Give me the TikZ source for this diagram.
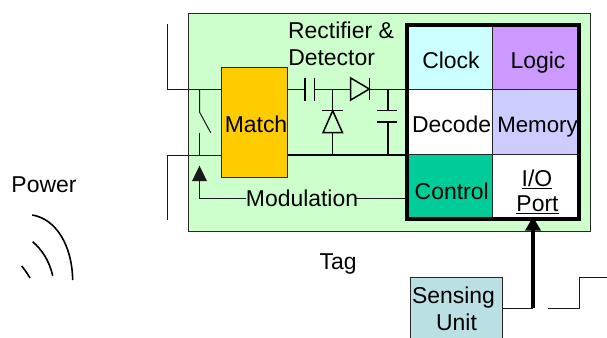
\documentclass[tikz,border=0pt]{standalone}
\usepackage{fontspec}
\setmainfont{Liberation Sans}
\usetikzlibrary{arrows.meta}
\definecolor{taggreen}{HTML}{CCFFCC}
\definecolor{matchc}{HTML}{FFCC00}
\definecolor{clockc}{HTML}{CCFFFF}
\definecolor{logicc}{HTML}{CC99FF}
\definecolor{memc}{HTML}{CCCCFF}
\definecolor{ctrlc}{HTML}{00CC99}
\definecolor{sensec}{HTML}{BBE0E3}
\begin{document}
\begin{tikzpicture}[x=0.75pt,y=-0.75pt,
  lbl/.style={inner sep=0pt,anchor=base,font=\fontsize{17.2}{20}\selectfont,text=black},
  wire/.style={draw=black!90,line width=0.75pt},
  heavy/.style={draw=black,line width=1.15pt},
  thin box/.style={draw=black!85,line width=0.75pt,inner sep=0pt},
  cell/.style={thin box,minimum width=65pt,minimum height=49pt}]
\useasboundingbox (0,0) rectangle (607,337);
\clip (0,0) rectangle (607,337);
% tag body
\node[thin box,fill=taggreen,minimum width=301.65pt,minimum height=163.5pt] (tag) at (389.6,122) {};
% free wire ends
\coordinate (topL) at (167,24);
\coordinate (upL) at (167,89);
\coordinate (lowL) at (167,155);
\coordinate (botL) at (167,220);
\coordinate (swA) at (199.5,89);
\coordinate (swB) at (199.5,112);
\coordinate (swC) at (210.7,132.7);
\coordinate (swD) at (199.5,132.7);
\coordinate (swE) at (199.5,155);
\coordinate (modTip) at (199.5,165.7);
\coordinate (modCorner) at (199.5,198);
% match
\node[thin box,fill=matchc,minimum width=49.5pt,minimum height=82.5pt] (match) at (254,122) {};
\node[lbl] (matchT) at (256,132.7) {Match};
% memory grid
\node[cell,fill=clockc] (clock) at (449.5,57.2) {};
\node[cell,fill=logicc] (logic) at (535.6,57.2) {};
\node[cell,fill=white] (decode) at (449.5,122) {};
\node[cell,fill=memc] (memory) at (535.6,122) {};
\node[cell,fill=ctrlc] (control) at (449.5,186.8) {};
\node[cell,fill=white] (io) at (535.6,186.8) {};
\node[lbl] (clockT) at (451,68) {Clock};
\node[lbl] (logicT) at (538,68) {Logic};
\node[lbl] (decodeT) at (451.7,132.7) {Decode};
\node[lbl,font=\fontsize{16.7}{20}\selectfont] (memoryT) at (537.5,132.7) {Memory};
\node[lbl] (controlT) at (451.7,199) {Control};
\node[lbl] (ioT) at (537,186) {\underline{I/O}};
\node[lbl] (portT) at (537.5,211.5) {\underline{Port}};
\node[draw=black,line width=3pt,inner sep=0pt,minimum width=129pt,minimum height=145.5pt] (grid) at (492.8,122) {};
% left wires
\draw[wire] (topL) -- (upL) -- (upL -| match.west);
\draw[wire] (botL) -- (lowL) -- (lowL -| match.west);
\draw[wire] (swA) -- (swB) -- (swC);
\draw[wire] (swD) -- (swE);
% rectifier wires
\coordinate (c1a) at (305,89);
\coordinate (c1b) at (314.3,89);
\coordinate (jn) at (332.7,89);
\coordinate (d1a) at (350.7,89);
\coordinate (d1b) at (369.3,89);
\coordinate (jc) at (388,89);
\draw[wire] (upL -| match.east) -- (c1a);
\draw[wire] (c1b) -- (d1a);
\draw[wire] (d1b) -- (upL -| grid.west);
\draw[heavy] (lowL -| match.east) -- (lowL -| grid.west);
\draw[heavy] (305,77.7) -- (305,100.7);
\draw[heavy] (314.3,77.7) -- (314.3,100.7);
\draw[heavy,line join=miter] (d1a |- 0,78) -- (d1b) -- (d1a |- 0,100) -- cycle;
\draw[heavy] (369.3,78) -- (369.3,100);
\coordinate (d2a) at (332.7,110.7);
\coordinate (d2b) at (332.7,132.7);
\draw[heavy] (jn) -- (d2a);
\draw[heavy] (d2b) -- (332.7,155);
\draw[heavy] (322,110.7) -- (342.5,110.7);
\draw[heavy,line join=miter] (d2a) -- (323,132.7) -- (342.5,132.7) -- cycle;
\draw[heavy] (jc) -- (388,110.7);
\draw[heavy] (388,122) -- (388,155);
\draw[heavy] (377,110.7) -- (397,110.7);
\draw[heavy] (377,122) -- (397,122);
% modulation
\node[lbl] (modT) at (302,206.5) {Modulation};
\draw[wire,shorten >=-1.5pt] (grid.west |- modCorner) -- (modCorner -| modT.east);
\draw[wire,-{Triangle[length=11.5pt,width=11pt]}] (modCorner -| modT.west) -- (modCorner) -- (modTip);
% labels
\node[lbl] (rect1) at (341,38) {Rectifier \&};
\node[lbl,anchor=base west] (rect2) at (288,65) {Detector};
\node[lbl] (tagT) at (338,269) {Tag};
\node[lbl] (power) at (44,192.5) {Power};
% sensing
\node[thin box,fill=sensec,minimum width=69.2pt,minimum height=47.6pt] (sense) at (456.2,309) {};
\node[lbl] (senseT1) at (453.5,303) {Sensing};
\node[lbl] (senseT2) at (456.5,330.5) {Unit};
\coordinate (sj) at (533,308);
\coordinate (ioIn) at (533,216.7);
\draw[wire] (sense.east |- sj) -- (sj);
\draw[black,line width=2.6pt,-{Triangle[length=10.5pt,width=11.3pt]}] (sj) -- (ioIn);
\coordinate (wa) at (548.3,308);
\coordinate (wb) at (579.3,308);
\coordinate (wc) at (579.3,277.3);
\coordinate (wd) at (607,277.3);
\draw[wire] (wa) -- (wb) -- (wc) -- (wd);
% radio waves
\draw[black,line width=1.2pt] (32.3,215) .. controls (56,219) and (72,245) .. (72.7,280);
\draw[black,line width=1.2pt] (32.7,241.7) .. controls (42,250) and (49,260) .. (52.7,275.7);
\draw[black,line width=1.2pt] (21.7,266) .. controls (25,270) and (27,273) .. (30,278);
\end{tikzpicture}
\end{document}
